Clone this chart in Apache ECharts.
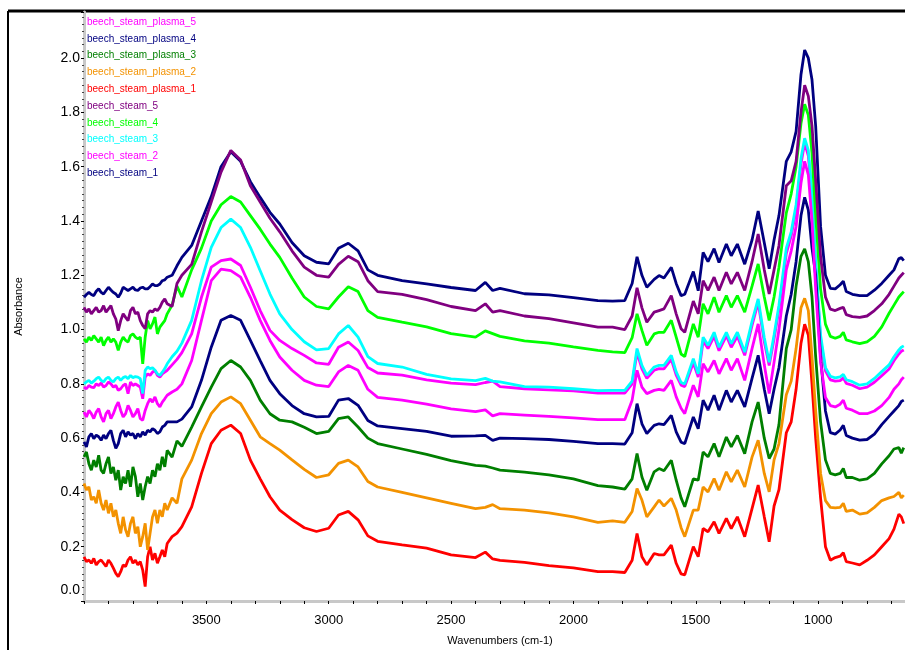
<!DOCTYPE html>
<html>
<head>
<meta charset="utf-8">
<script src="https://cdn.jsdelivr.net/npm/echarts@6/dist/echarts.min.js"></script>
<style>
  html, body { margin: 0; padding: 0; background: #fff; }
  #ftir { width: 905px; height: 650px; }
</style>
</head>
<body>
<div id="ftir"></div>
<script>
// wavenumbers (cm-1), shared by every spectrum
const wavenumbers = [
  4000, 3990, 3980, 3970, 3960, 3950, 3940, 3930, 3920, 3910, 3900, 3890, 3880, 3870, 3860, 3850, 3840, 3830, 3820, 3810,
  3800, 3790, 3780, 3770, 3760, 3750, 3740, 3730, 3720, 3710, 3700, 3690, 3680, 3670, 3660, 3640, 3620, 3600,
  3560, 3520, 3480, 3440, 3400, 3360, 3320, 3280, 3240, 3200, 3150, 3100, 3050, 3000,
  2960, 2920, 2880, 2840, 2800, 2700, 2600, 2500, 2400, 2360, 2330, 2300, 2200, 2100, 2000, 1900, 1840,
  1790, 1760, 1740, 1720, 1700, 1670, 1650, 1630, 1600, 1580, 1560, 1545, 1510, 1490, 1470, 1450, 1425, 1405, 1375, 1355,
  1330, 1300, 1270, 1245, 1220, 1200, 1180, 1160, 1130, 1110, 1090, 1070, 1055, 1040, 1025, 1010, 990, 970, 950, 930,
  910, 897, 885, 860, 830, 800, 770, 740, 710, 690, 670, 660, 650
];

const steam1 = [
  1.119, 1.129, 1.137, 1.129, 1.125, 1.141, 1.15, 1.137, 1.131, 1.144, 1.156, 1.146, 1.137, 1.131, 1.119, 1.134, 1.156, 1.15, 1.144, 1.15,
  1.156, 1.146, 1.144, 1.153, 1.156, 1.15, 1.15, 1.158, 1.168, 1.162, 1.162, 1.168, 1.18, 1.183, 1.193, 1.2, 1.235, 1.266,
  1.31, 1.4, 1.49, 1.6, 1.655, 1.62, 1.545, 1.487, 1.432, 1.389, 1.321, 1.272, 1.248, 1.242,
  1.3, 1.318, 1.29, 1.22, 1.2, 1.18, 1.168, 1.155, 1.144, 1.174, 1.144, 1.152, 1.132, 1.128, 1.118, 1.107, 1.105,
  1.107, 1.17, 1.268, 1.2, 1.156, 1.185, 1.199, 1.19, 1.229, 1.17, 1.125, 1.13, 1.214, 1.143, 1.284, 1.25, 1.298, 1.247, 1.315, 1.272,
  1.315, 1.241, 1.33, 1.437, 1.32, 1.224, 1.33, 1.42, 1.62, 1.655, 1.73, 1.94, 2.03, 2.0, 1.92, 1.75, 1.38, 1.2, 1.152, 1.15,
  1.165, 1.178, 1.14, 1.13, 1.125, 1.125, 1.145, 1.17, 1.2, 1.22, 1.262, 1.265, 1.254
];
const steam2 = [
  0.788, 0.782, 0.794, 0.788, 0.786, 0.8, 0.794, 0.803, 0.788, 0.794, 0.807, 0.8, 0.788, 0.794, 0.776, 0.782, 0.794, 0.8, 0.764, 0.807,
  0.794, 0.8, 0.794, 0.788, 0.745, 0.825, 0.837, 0.831, 0.843, 0.85, 0.831, 0.825, 0.837, 0.843, 0.85, 0.87, 0.89, 0.915,
  0.984, 1.119, 1.23, 1.254, 1.26, 1.236, 1.156, 1.07, 0.997, 0.96, 0.93, 0.905, 0.877, 0.872,
  0.935, 0.954, 0.923, 0.86, 0.84, 0.832, 0.815, 0.803, 0.797, 0.805, 0.81, 0.79, 0.782, 0.778, 0.774, 0.766, 0.766,
  0.766, 0.8, 0.915, 0.855, 0.82, 0.85, 0.856, 0.855, 0.89, 0.832, 0.795, 0.79, 0.878, 0.825, 0.958, 0.93, 0.975, 0.922, 0.977, 0.935,
  0.975, 0.905, 1.015, 1.1, 0.955, 0.868, 0.965, 1.075, 1.28, 1.345, 1.44, 1.61, 1.688, 1.64, 1.48, 1.23, 0.965, 0.848, 0.815, 0.81,
  0.812, 0.822, 0.802, 0.795, 0.782, 0.788, 0.806, 0.83, 0.855, 0.885, 0.91, 0.92, 0.925
];
const steam3 = [
  0.8, 0.807, 0.813, 0.803, 0.81, 0.819, 0.825, 0.813, 0.807, 0.819, 0.825, 0.813, 0.807, 0.819, 0.825, 0.813, 0.823, 0.827, 0.819, 0.831,
  0.823, 0.827, 0.825, 0.819, 0.764, 0.85, 0.862, 0.856, 0.859, 0.85, 0.837, 0.831, 0.843, 0.856, 0.874, 0.9, 0.92, 0.95,
  1.034, 1.18, 1.303, 1.376, 1.407, 1.376, 1.303, 1.217, 1.131, 1.058, 1.0, 0.955, 0.925, 0.93,
  0.984, 1.015, 0.972, 0.9, 0.875, 0.862, 0.835, 0.818, 0.812, 0.82, 0.81, 0.807, 0.79, 0.788, 0.782, 0.775, 0.776,
  0.776, 0.81, 0.93, 0.868, 0.831, 0.862, 0.868, 0.868, 0.905, 0.844, 0.805, 0.8, 0.893, 0.837, 0.972, 0.942, 0.99, 0.935, 0.99, 0.948,
  0.99, 0.917, 1.03, 1.113, 0.97, 0.88, 0.98, 1.09, 1.3, 1.36, 1.46, 1.63, 1.705, 1.66, 1.5, 1.25, 0.98, 0.86, 0.828, 0.822,
  0.826, 0.835, 0.815, 0.808, 0.795, 0.8, 0.82, 0.845, 0.87, 0.9, 0.925, 0.935, 0.94
];
const steam4 = [
  0.966, 0.954, 0.972, 0.96, 0.978, 0.966, 0.954, 0.972, 0.941, 0.96, 0.972, 0.954, 0.966, 0.954, 0.923, 0.954, 0.972, 0.96, 0.954, 0.978,
  0.984, 0.972, 0.966, 0.972, 0.874, 0.972, 1.033, 1.003, 1.021, 1.046, 0.984, 1.009, 1.021, 1.033, 1.058, 1.09, 1.16, 1.12,
  1.22, 1.3, 1.4, 1.46, 1.49, 1.47, 1.42, 1.37, 1.315, 1.266, 1.19, 1.12, 1.085, 1.076,
  1.12, 1.158, 1.14, 1.07, 1.045, 1.027, 1.01, 0.985, 0.972, 0.995, 0.985, 0.975, 0.958, 0.95, 0.936, 0.923, 0.918,
  0.915, 0.97, 1.058, 0.997, 0.942, 0.984, 0.99, 0.99, 1.034, 0.972, 0.91, 0.9, 1.021, 0.972, 1.095, 1.058, 1.119, 1.064, 1.125, 1.082,
  1.125, 1.064, 1.16, 1.242, 1.12, 1.034, 1.12, 1.23, 1.43, 1.5, 1.6, 1.76, 1.83, 1.79, 1.65, 1.42, 1.15, 1.02, 0.975, 0.968,
  0.975, 0.99, 0.962, 0.955, 0.948, 0.955, 0.975, 1.01, 1.06, 1.09, 1.12, 1.13, 1.14
];
const steam5 = [
  1.082, 1.064, 1.076, 1.058, 1.07, 1.082, 1.064, 1.07, 1.088, 1.064, 1.076, 1.088, 1.058, 1.039, 0.996, 1.033, 1.058, 1.045, 1.033, 1.07,
  1.082, 1.058, 1.064, 1.033, 1.015, 1.003, 1.058, 1.07, 1.064, 1.076, 1.07, 1.082, 1.101, 1.113, 1.095, 1.085, 1.17, 1.2,
  1.24, 1.36, 1.47, 1.58, 1.66, 1.625, 1.53, 1.47, 1.41, 1.36, 1.29, 1.23, 1.2, 1.193,
  1.24, 1.27, 1.25, 1.18, 1.14, 1.13, 1.11, 1.085, 1.07, 1.095, 1.064, 1.07, 1.05, 1.04, 1.025, 1.009, 1.009,
  1.0, 1.05, 1.154, 1.08, 1.027, 1.064, 1.07, 1.076, 1.125, 1.058, 1.003, 0.99, 1.105, 1.058, 1.18, 1.144, 1.193, 1.144, 1.211, 1.168,
  1.211, 1.144, 1.25, 1.352, 1.22, 1.131, 1.22, 1.31, 1.53, 1.548, 1.62, 1.8, 1.9, 1.86, 1.75, 1.55, 1.27, 1.12, 1.075, 1.07,
  1.078, 1.082, 1.055, 1.048, 1.045, 1.05, 1.07, 1.095, 1.13, 1.16, 1.19, 1.2, 1.21
];
const plasma1 = [
  0.163, 0.145, 0.151, 0.139, 0.157, 0.133, 0.145, 0.151, 0.139, 0.127, 0.151, 0.139, 0.121, 0.102, 0.09, 0.108, 0.133, 0.127, 0.151, 0.163,
  0.139, 0.151, 0.133, 0.145, 0.114, 0.053, 0.163, 0.2, 0.151, 0.176, 0.139, 0.163, 0.188, 0.163, 0.212, 0.237, 0.25, 0.274,
  0.347, 0.47, 0.58, 0.629, 0.648, 0.617, 0.519, 0.45, 0.384, 0.335, 0.3, 0.27, 0.256, 0.268,
  0.317, 0.33, 0.299, 0.24, 0.22, 0.207, 0.195, 0.17, 0.16, 0.18, 0.155, 0.15, 0.142, 0.13, 0.122, 0.108, 0.108,
  0.105, 0.15, 0.249, 0.163, 0.133, 0.175, 0.17, 0.17, 0.206, 0.139, 0.1, 0.096, 0.2, 0.163, 0.267, 0.255, 0.292, 0.249, 0.304, 0.267,
  0.31, 0.237, 0.34, 0.427, 0.31, 0.218, 0.35, 0.41, 0.62, 0.66, 0.78, 0.95, 1.02, 0.98, 0.8, 0.6, 0.38, 0.2, 0.15, 0.16,
  0.165, 0.178, 0.145, 0.14, 0.133, 0.15, 0.17, 0.2, 0.23, 0.265, 0.32, 0.31, 0.285
];
const plasma2 = [
  0.433, 0.409, 0.421, 0.372, 0.384, 0.36, 0.409, 0.36, 0.335, 0.372, 0.323, 0.36, 0.31, 0.335, 0.286, 0.249, 0.31, 0.262, 0.237, 0.286,
  0.31, 0.249, 0.274, 0.2, 0.237, 0.286, 0.188, 0.249, 0.31, 0.335, 0.286, 0.335, 0.31, 0.36, 0.335, 0.38, 0.36, 0.45,
  0.519, 0.617, 0.69, 0.733, 0.752, 0.727, 0.666, 0.605, 0.58, 0.556, 0.52, 0.485, 0.455, 0.465,
  0.507, 0.519, 0.494, 0.44, 0.42, 0.4, 0.38, 0.36, 0.34, 0.345, 0.355, 0.34, 0.335, 0.325, 0.31, 0.29, 0.295,
  0.29, 0.33, 0.414, 0.372, 0.31, 0.347, 0.372, 0.35, 0.378, 0.335, 0.27, 0.237, 0.335, 0.335, 0.42, 0.402, 0.451, 0.408, 0.476, 0.439,
  0.482, 0.42, 0.53, 0.592, 0.47, 0.402, 0.52, 0.58, 0.76, 0.81, 0.93, 1.08, 1.115, 1.07, 0.9, 0.7, 0.47, 0.37, 0.345, 0.343,
  0.345, 0.36, 0.33, 0.335, 0.32, 0.325, 0.345, 0.37, 0.38, 0.385, 0.4, 0.38, 0.39
];
const plasma3 = [
  0.531, 0.549, 0.506, 0.482, 0.519, 0.494, 0.537, 0.482, 0.47, 0.506, 0.531, 0.47, 0.494, 0.445, 0.482, 0.409, 0.458, 0.433, 0.482, 0.421,
  0.494, 0.458, 0.384, 0.433, 0.372, 0.421, 0.458, 0.433, 0.482, 0.458, 0.506, 0.482, 0.531, 0.494, 0.555, 0.53, 0.59, 0.57,
  0.641, 0.715, 0.788, 0.856, 0.886, 0.862, 0.813, 0.74, 0.69, 0.666, 0.66, 0.64, 0.617, 0.625,
  0.672, 0.678, 0.641, 0.6, 0.58, 0.56, 0.54, 0.517, 0.5, 0.497, 0.49, 0.482, 0.475, 0.465, 0.45, 0.425, 0.42,
  0.412, 0.45, 0.543, 0.457, 0.408, 0.476, 0.488, 0.48, 0.518, 0.445, 0.38, 0.347, 0.45, 0.445, 0.549, 0.531, 0.58, 0.531, 0.604, 0.568,
  0.61, 0.543, 0.66, 0.733, 0.6, 0.525, 0.56, 0.65, 0.93, 1.0, 1.16, 1.27, 1.297, 1.25, 1.12, 0.9, 0.66, 0.52, 0.47, 0.465,
  0.47, 0.488, 0.455, 0.455, 0.445, 0.45, 0.47, 0.505, 0.535, 0.56, 0.565, 0.545, 0.565
];
const plasma4 = [
  0.586, 0.568, 0.605, 0.617, 0.598, 0.611, 0.605, 0.592, 0.611, 0.598, 0.617, 0.629, 0.592, 0.562, 0.58, 0.617, 0.629, 0.605, 0.623, 0.611,
  0.617, 0.598, 0.617, 0.605, 0.623, 0.611, 0.629, 0.623, 0.635, 0.629, 0.617, 0.623, 0.641, 0.647, 0.66, 0.66, 0.66, 0.67,
  0.715, 0.813, 0.935, 1.034, 1.052, 1.034, 0.96, 0.886, 0.813, 0.764, 0.72, 0.69, 0.678, 0.68,
  0.74, 0.746, 0.721, 0.665, 0.645, 0.635, 0.625, 0.607, 0.608, 0.61, 0.592, 0.6, 0.598, 0.595, 0.588, 0.58, 0.58,
  0.578, 0.62, 0.727, 0.653, 0.617, 0.647, 0.653, 0.65, 0.684, 0.623, 0.585, 0.58, 0.678, 0.635, 0.74, 0.703, 0.758, 0.703, 0.776, 0.733,
  0.776, 0.715, 0.82, 0.905, 0.78, 0.69, 0.78, 0.86, 1.05, 1.13, 1.25, 1.42, 1.487, 1.44, 1.3, 1.2, 0.9, 0.7, 0.62, 0.615,
  0.63, 0.647, 0.61, 0.6, 0.593, 0.595, 0.615, 0.65, 0.68, 0.7, 0.72, 0.735, 0.74
];
const plasma5 = [
  0.696, 0.678, 0.702, 0.69, 0.672, 0.696, 0.709, 0.678, 0.66, 0.69, 0.702, 0.672, 0.69, 0.715, 0.733, 0.702, 0.678, 0.69, 0.721, 0.702,
  0.678, 0.69, 0.709, 0.672, 0.666, 0.702, 0.727, 0.745, 0.733, 0.752, 0.727, 0.715, 0.733, 0.745, 0.758, 0.77, 0.78, 0.8,
  0.886, 1.034, 1.18, 1.223, 1.217, 1.193, 1.119, 1.034, 0.96, 0.899, 0.85, 0.813, 0.795, 0.79,
  0.844, 0.868, 0.85, 0.78, 0.75, 0.74, 0.725, 0.708, 0.698, 0.704, 0.682, 0.69, 0.685, 0.68, 0.675, 0.668, 0.668,
  0.668, 0.74, 0.85, 0.788, 0.764, 0.776, 0.78, 0.776, 0.813, 0.752, 0.71, 0.69, 0.795, 0.752, 0.874, 0.844, 0.886, 0.837, 0.893, 0.85,
  0.893, 0.813, 0.93, 1.021, 0.87, 0.764, 0.88, 1.0, 1.22, 1.29, 1.38, 1.54, 1.62, 1.57, 1.4, 1.15, 0.88, 0.75, 0.72, 0.715,
  0.725, 0.74, 0.71, 0.703, 0.69, 0.69, 0.7, 0.72, 0.75, 0.78, 0.8, 0.815, 0.825
];

// legend order, top to bottom
const legendNames = [
  'beech_steam_plasma_5', 'beech_steam_plasma_4', 'beech_steam_plasma_3', 'beech_steam_plasma_2', 'beech_steam_plasma_1',
  'beech_steam_5', 'beech_steam_4', 'beech_steam_3', 'beech_steam_2', 'beech_steam_1'
];

const spectra = [
  { name: 'beech_steam_1', color: '#000080', values: steam1 },
  { name: 'beech_steam_2', color: '#ff00ff', values: steam2 },
  { name: 'beech_steam_3', color: '#00ffff', values: steam3 },
  { name: 'beech_steam_4', color: '#00ff00', values: steam4 },
  { name: 'beech_steam_5', color: '#800080', values: steam5 },
  { name: 'beech_steam_plasma_1', color: '#ff0000', values: plasma1 },
  { name: 'beech_steam_plasma_2', color: '#f39200', values: plasma2 },
  { name: 'beech_steam_plasma_3', color: '#007f00', values: plasma3 },
  { name: 'beech_steam_plasma_4', color: '#000080', values: plasma4 },
  { name: 'beech_steam_plasma_5', color: '#ff00ff', values: plasma5 }
];

const colorOf = {};
spectra.forEach(s => { colorOf[s.name] = s.color; });

const chart = echarts.init(document.getElementById('ftir'));
chart.setOption({
  animation: false,
  backgroundColor: '#fff',
  textStyle: { fontFamily: 'Arial, "Liberation Sans", sans-serif' },
  // plot runs a little past the right edge so that 650 cm-1 sits at the border
  grid: { left: 84, top: 12, width: 832, height: 589, outerBoundsMode: 'none' },
  legend: {
    orient: 'vertical',
    left: 77,
    top: 11,
    icon: 'none',
    itemWidth: 0,
    itemHeight: 12,
    itemGap: 5.8,
    selectedMode: false,
    textStyle: { fontSize: 10, padding: 0 },
    data: legendNames.map(n => ({ name: n, textStyle: { color: colorOf[n] } }))
  },
  xAxis: {
    type: 'value',
    inverse: true,
    min: 600,
    max: 4000,
    interval: 100,
    name: 'Wavenumbers (cm-1)',
    nameLocation: 'middle',
    nameGap: 34,
    nameTextStyle: { fontSize: 11, color: '#000' },
    axisLine: { onZero: false, lineStyle: { color: '#c8c8c8', width: 3 } },
    axisTick: { length: 3, lineStyle: { color: '#000' } },
    axisLabel: {
      fontSize: 13,
      color: '#000',
      margin: 13,
      formatter: v => (v % 500 === 0 && v >= 1000 && v < 4000) ? String(v) : ''
    },
    splitLine: { show: false }
  },
  yAxis: {
    type: 'value',
    min: 0,
    max: 2.17,
    interval: 0.2,
    name: 'Absorbance',
    nameLocation: 'middle',
    nameGap: 60,
    nameTextStyle: { fontSize: 11, color: '#000' },
    axisLine: { show: true, lineStyle: { color: '#c8c8c8', width: 3 } },
    axisTick: { length: 3, lineStyle: { color: '#000' } },
    minorTick: { show: true, splitNumber: 8, length: 2, lineStyle: { color: '#444' } },
    axisLabel: {
      fontSize: 14,
      color: '#000',
      margin: 4,
      showMaxLabel: false,
      // the bottom label sits a little above the axis end, as in the original plot
      formatter: v => v === 0 ? '{z|0.0}' : v.toFixed(1),
      rich: { z: { fontSize: 14, color: '#000', padding: [0, 0, 22, 0] } }
    },
    splitLine: { show: false }
  },
  graphic: [
    { type: 'line', shape: { x1: 8, y1: 11, x2: 8, y2: 650 }, style: { stroke: '#000', lineWidth: 2 } },
    { type: 'line', shape: { x1: 8, y1: 11, x2: 905, y2: 11 }, style: { stroke: '#000', lineWidth: 3 } }
  ],
  series: spectra.map(s => ({
    name: s.name,
    type: 'line',
    showSymbol: false,
    symbol: 'none',
    color: s.color,
    lineStyle: { color: s.color, width: 2.8 },
    data: wavenumbers.map((w, i) => [w, s.values[i]])
  }))
});
</script>
</body>
</html>
